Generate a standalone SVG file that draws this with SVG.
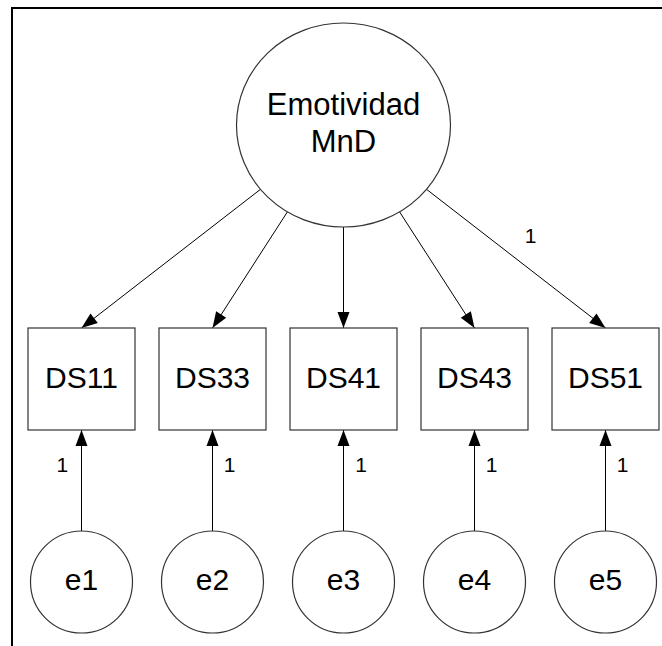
<svg xmlns="http://www.w3.org/2000/svg" width="662" height="646" viewBox="0 0 662 646">
<style>
.node{fill:#fff;stroke:#333;stroke-width:1.2}
.lbl{font-family:"Liberation Sans",Arial,sans-serif;font-size:30px;fill:#000;text-anchor:middle}
.big{font-size:31px}
.w{font-family:"Liberation Sans",Arial,sans-serif;font-size:21px;fill:#000;text-anchor:middle}
.c{stroke:#000;stroke-width:1;fill:none;marker-end:url(#ah)}
</style>
<defs>
<marker id="ah" markerUnits="userSpaceOnUse" markerWidth="16" markerHeight="12" refX="16" refY="6" orient="auto" overflow="visible">
<path d="M0,0 L16,6 L0,12 z" fill="#000"/>
</marker>
</defs>
<rect width="662" height="646" fill="#fff"/>
<path d="M12,646 V8 H662" fill="none" stroke="#000" stroke-width="2"/>
<g id="connectors">
<line class="c" x1="260.5" y1="189.3" x2="81.5" y2="328"/>
<line class="c" x1="287.4" y1="211.9" x2="212.5" y2="328"/>
<line class="c" x1="343.5" y1="227" x2="343.5" y2="328"/>
<line class="c" x1="399.6" y1="211.9" x2="474.5" y2="328"/>
<line class="c" x1="426.5" y1="189.3" x2="605.5" y2="328"/>
<line class="c" x1="81.5" y1="531" x2="81.5" y2="430"/>
<line class="c" x1="212.5" y1="531" x2="212.5" y2="430"/>
<line class="c" x1="343.5" y1="531" x2="343.5" y2="430"/>
<line class="c" x1="474.5" y1="531" x2="474.5" y2="430"/>
<line class="c" x1="605.5" y1="531" x2="605.5" y2="430"/>
<text class="w" x="530.5" y="243.3" font-size="22">1</text>
<text class="w" x="62.4" y="471.5">1</text>
<text class="w" x="229.7" y="471.5">1</text>
<text class="w" x="361" y="471.5">1</text>
<text class="w" x="491.5" y="471.5">1</text>
<text class="w" x="622.5" y="471.5">1</text>
</g>
<g id="emotividad">
<ellipse class="node" cx="343.5" cy="125" rx="107" ry="102"/>
<text class="lbl big" x="343.5" y="115">Emotividad</text>
<text class="lbl big" x="343.5" y="152.3">MnD</text>
</g>
<g id="DS11"><rect class="node" x="28" y="328" width="107" height="102"/><text class="lbl" x="81.5" y="388.3">DS11</text></g>
<g id="DS33"><rect class="node" x="159" y="328" width="107" height="102"/><text class="lbl" x="212.5" y="388.3">DS33</text></g>
<g id="DS41"><rect class="node" x="290" y="328" width="107" height="102"/><text class="lbl" x="343.5" y="388.3">DS41</text></g>
<g id="DS43"><rect class="node" x="421" y="328" width="107" height="102"/><text class="lbl" x="474.5" y="388.3">DS43</text></g>
<g id="DS51"><rect class="node" x="552" y="328" width="107" height="102"/><text class="lbl" x="605.5" y="388.3">DS51</text></g>
<g id="e1"><circle class="node" cx="81.5" cy="582" r="51"/><text class="lbl" x="81.5" y="590">e1</text></g>
<g id="e2"><circle class="node" cx="212.5" cy="582" r="51"/><text class="lbl" x="212.5" y="590">e2</text></g>
<g id="e3"><circle class="node" cx="343.5" cy="582" r="51"/><text class="lbl" x="343.5" y="590">e3</text></g>
<g id="e4"><circle class="node" cx="474.5" cy="582" r="51"/><text class="lbl" x="474.5" y="590">e4</text></g>
<g id="e5"><circle class="node" cx="605.5" cy="582" r="51"/><text class="lbl" x="605.5" y="590">e5</text></g>
</svg>
